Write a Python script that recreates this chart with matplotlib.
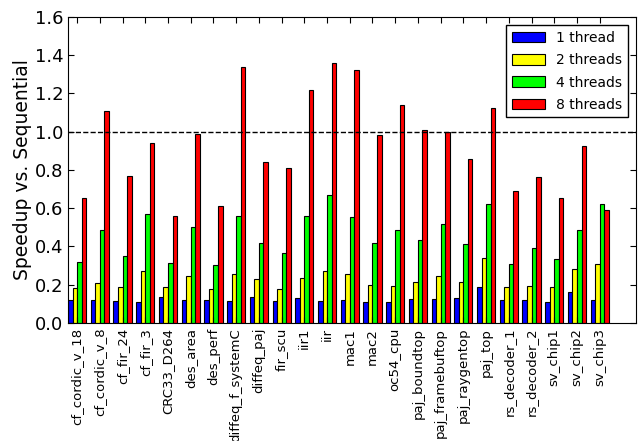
import numpy as np
import matplotlib
matplotlib.use("Agg")
import matplotlib.pyplot as plt

benchmarks = ['cf_cordic_v_18', 'cf_cordic_v_8', 'cf_fir_24', 'cf_fir_3', 'CRC33_D264',
              'des_area', 'des_perf', 'diffeq_f_systemC', 'diffeq_paj', 'fir_scu',
              'iir1', 'iir', 'mac1', 'mac2', 'oc54_cpu', 'paj_boundtop',
              'paj_framebuftop', 'paj_raygentop', 'paj_top', 'rs_decoder_1',
              'rs_decoder_2', 'sv_chip1', 'sv_chip2', 'sv_chip3']

t1 = [0.118, 0.120, 0.115, 0.110, 0.136, 0.122, 0.118, 0.115, 0.138, 0.115,
      0.129, 0.117, 0.120, 0.110, 0.108, 0.127, 0.124, 0.129, 0.188, 0.118,
      0.118, 0.110, 0.160, 0.120]
t2 = [0.183, 0.211, 0.186, 0.272, 0.190, 0.244, 0.176, 0.254, 0.232, 0.179,
      0.233, 0.273, 0.256, 0.200, 0.195, 0.214, 0.246, 0.214, 0.341, 0.186,
      0.195, 0.188, 0.282, 0.306]
t4 = [0.320, 0.486, 0.348, 0.568, 0.315, 0.500, 0.301, 0.559, 0.420, 0.364,
      0.557, 0.670, 0.556, 0.418, 0.484, 0.434, 0.519, 0.413, 0.620, 0.310,
      0.394, 0.333, 0.486, 0.623]
t8 = [0.653, 1.111, 0.768, 0.940, 0.559, 0.986, 0.610, 1.341, 0.841, 0.808,
      1.216, 1.357, 1.324, 0.984, 1.139, 1.008, 0.996, 0.859, 1.123, 0.691,
      0.761, 0.651, 0.925, 0.592]

series = [(t1, 'blue', '1 thread'), (t2, 'yellow', '2 threads'),
          (t4, '#00ff00', '4 threads'), (t8, 'red', '8 threads')]

fig = plt.figure(figsize=(6.42, 4.41), dpi=100)
ax = fig.add_axes([0.106, 0.2676, 0.8847, 0.6939])

ind = np.arange(len(benchmarks))
width = 0.2
for n, (vals, col, lab) in enumerate(series):
    ax.bar(ind + n * width, vals, width, align='edge', color=col,
           edgecolor='black', linewidth=0.8, label=lab)

# reference line at speedup = 1
ax.axhline(1.0, color='black', linestyle='--', linewidth=1)

ax.set_xlim(0, 25)
ax.set_ylim(0, 1.6)
ax.set_xticks(ind + 2 * width)
ax.set_xticklabels(benchmarks, rotation=90, fontsize=9.5)
yt = np.arange(0, 1.61, 0.2)
ax.set_yticks(yt)
ax.set_yticklabels(['%.1f' % v for v in yt], fontsize=13)
ax.tick_params(direction='in', top=True, right=True, length=4)
ax.set_ylabel('Speedup vs. Sequential', fontsize=13.5, labelpad=2)

ax.legend(loc='upper right', fontsize=10, fancybox=False, framealpha=1,
          edgecolor='black', borderaxespad=0.6, handlelength=2.4,
          handleheight=0.8, labelspacing=0.6)

fig.savefig('out.png', dpi=100)
